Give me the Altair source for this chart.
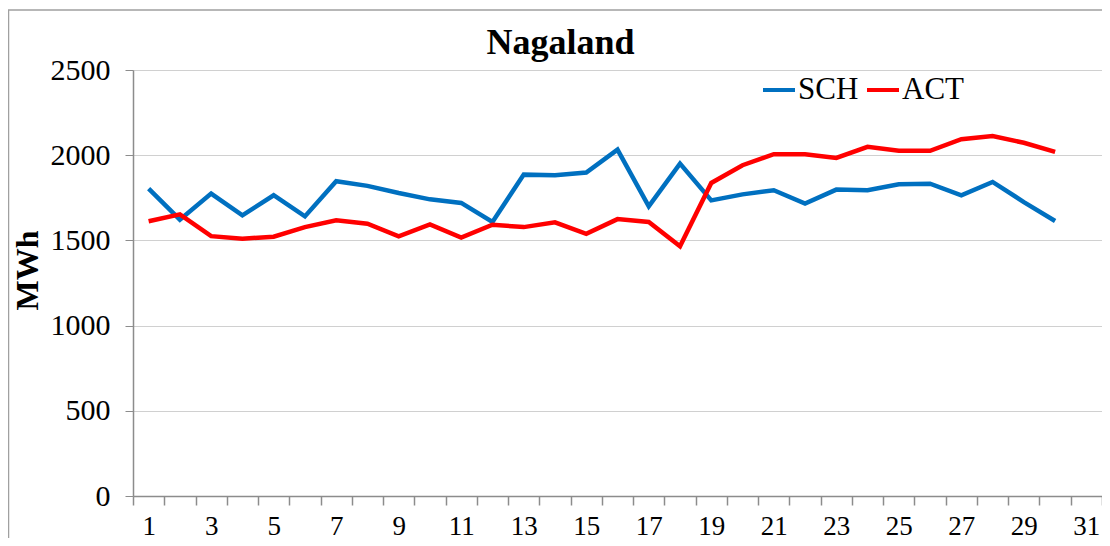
import altair as alt
import pandas as pd

days = list(range(1, 31))
sch = [1804, 1622, 1775, 1647, 1765, 1641, 1847, 1820, 1778, 1741,
       1720, 1608, 1886, 1882, 1898, 2033, 1700, 1951, 1735, 1770,
       1794, 1716, 1798, 1794, 1829, 1833, 1765, 1843, 1725, 1614]
act = [1612, 1653, 1525, 1510, 1522, 1578, 1618, 1598, 1524, 1594,
       1516, 1592, 1578, 1606, 1539, 1625, 1608, 1465, 1837, 1941,
       2006, 2006, 1984, 2049, 2026, 2026, 2094, 2112, 2073, 2020]
series_names = ["SCH", "ACT"]
series_colors = ["#0070C0", "#FF0000"]
y_ticks = [0, 500, 1000, 1500, 2000, 2500]
x_positions = [i / 2 for i in range(1, 64)]  # 0.5 .. 31.5

rows = []
for d, s, a in zip(days, sch, act):
    rows.append({"day": d, "series": "SCH", "value": s})
    rows.append({"day": d, "series": "ACT", "value": a})
df = pd.DataFrame(rows)

FONT = "Liberation Serif"

lines = alt.Chart(df).mark_line(strokeWidth=4.5).encode(
    x=alt.X(
        "day:Q",
        scale=alt.Scale(domain=[0.5, 31.5], nice=False, zero=False),
        axis=alt.Axis(
            values=x_positions,
            title=None,
            grid=False,
            domainColor="#8C8C8C",
            domainWidth=1.5,
            tickColor="#8C8C8C",
            tickWidth=1.5,
            tickSize=9,
            tickOpacity=alt.condition("datum.value % 1 != 0", alt.value(1), alt.value(0)),
            labelExpr="datum.value % 2 == 1 ? '' + datum.value : ''",
            labelOverlap=False,
            labelFlush=False,
            labelFontSize=27,
            labelFont=FONT,
            labelColor="black",
            labelPadding=8,
        ),
    ),
    y=alt.Y(
        "value:Q",
        scale=alt.Scale(domain=[0, 2500], nice=False),
        axis=alt.Axis(
            values=y_ticks,
            format="d",
            title="MWh",
            titleFont=FONT,
            titleFontSize=32,
            titleFontWeight="bold",
            titleColor="black",
            titleX=-106,
            titleY=200,
            titleAlign="center",
            titleBaseline="middle",
            titleAngle=-90,
            grid=True,
            gridColor="#D0D0D0",
            gridWidth=1.2,
            domainColor="#8C8C8C",
            domainWidth=1.5,
            tickColor="#8C8C8C",
            tickSize=8,
            labelFontSize=30,
            labelFont=FONT,
            labelColor="black",
            labelPadding=15,
        ),
    ),
    color=alt.Color(
        "series:N",
        scale=alt.Scale(domain=series_names, range=series_colors),
        legend=alt.Legend(
            title=None,
            orient="none",
            legendX=628,
            legendY=2,
            direction="horizontal",
            symbolType="stroke",
            symbolStrokeWidth=4,
            symbolSize=1024,
            labelFont=FONT,
            labelFontSize=31,
            labelColor="black",
            labelOffset=1,
            columnPadding=0,
            padding=0,
        ),
    ),
    order="day:Q",
)

border = alt.Chart(alt.Data(values=[{}])).mark_rect(
    fill=None, fillOpacity=0, stroke="#A0A0A0", strokeWidth=1.5
).encode(
    x=alt.value(-124.5), x2=alt.value(2000),
    y=alt.value(-60), y2=alt.value(2000),
)

chart = alt.layer(border, lines).properties(
    width=969,
    height=426,
    title=alt.TitleParams(
        "Nagaland", font=FONT, fontSize=36, fontWeight="bold", color="black",
        anchor="middle", dx=-57, offset=-81, frame="group", baseline="alphabetic",
    ),
    autosize=alt.AutoSizeParams(type="none"),
    padding={"left": 125, "top": 62, "right": 0, "bottom": 42},
).configure_view(stroke=None).configure(font=FONT, background="white")

chart.save("out.html", embed_options={"renderer": "svg", "actions": False})
